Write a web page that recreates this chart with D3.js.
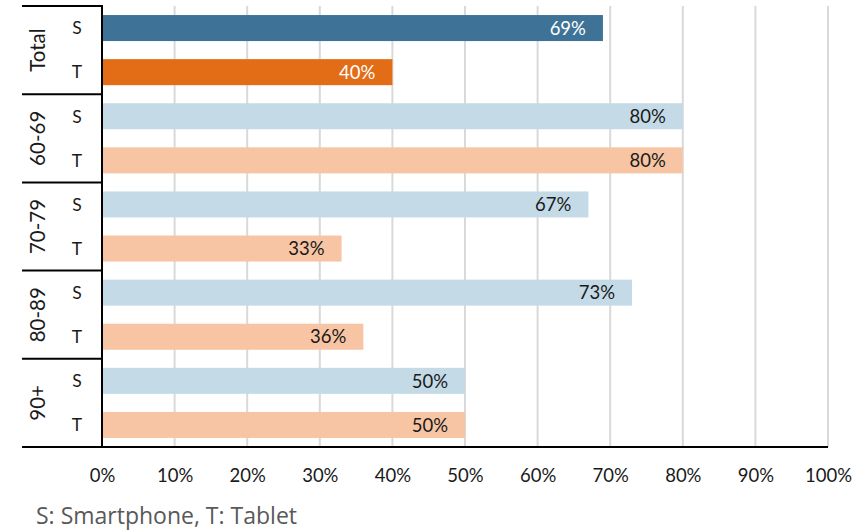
<!DOCTYPE html>
<html>
<head>
<meta charset="utf-8">
<script src="https://cdn.jsdelivr.net/npm/d3@7"></script>
<style>
  html, body { margin: 0; padding: 0; background: #fff; }
  svg { display: block; font-family: Lato, "Open Sans", sans-serif; }
</style>
</head>
<body>
<svg id="chart" width="861" height="532"></svg>
<script>
// Share of respondents using each device, by age group
const groups = ["Total", "60-69", "70-79", "80-89", "90+"];
const devices = ["S", "T"];
const smartphone = [69, 80, 67, 73, 50];
const tablet = [40, 80, 33, 36, 50];
const xTicks = [0, 10, 20, 30, 40, 50, 60, 70, 80, 90, 100];
const footnote = "S: Smartphone, T: Tablet";

const rows = [];
groups.forEach((g, i) => {
  rows.push({ group: g, device: "S", value: smartphone[i], gi: i });
  rows.push({ group: g, device: "T", value: tablet[i], gi: i });
});
rows.forEach((r, i) => r.key = i);

const svg = d3.select("#chart");
const plotLeft = 102, plotRight = 828, plotTop = 6, plotBottom = 447;
const outerLeft = 22;
const textColor = "#1a1a1a";

const x = d3.scaleLinear().domain([0, 100]).range([plotLeft, plotRight]);
const y = d3.scaleBand().domain(rows.map(r => r.key)).range([plotTop, plotBottom]).paddingInner(0.41).paddingOuter(0.205);
const yGroup = d3.scaleBand().domain(groups).range([plotTop, plotBottom]);

const fill = r => {
  if (r.gi === 0) return r.device === "S" ? "#3e7397" : "#e36c17";
  return r.device === "S" ? "#c4dbe7" : "#f7c5a3";
};

// vertical gridlines
svg.append("g").selectAll("line").data(xTicks.slice(1)).join("line")
  .attr("x1", d => x(d)).attr("x2", d => x(d))
  .attr("y1", plotTop).attr("y2", plotBottom)
  .attr("stroke", "#d9d9d9").attr("stroke-width", 2);

// bars
svg.append("g").selectAll("rect").data(rows).join("rect")
  .attr("x", x(0)).attr("y", r => y(r.key))
  .attr("width", r => x(r.value) - x(0)).attr("height", y.bandwidth())
  .attr("fill", fill);

// value labels inside bar ends
svg.append("g").selectAll("text").data(rows).join("text")
  .attr("x", r => x(r.value) - 17)
  .attr("y", r => y(r.key) + y.bandwidth() / 2)
  .attr("dy", "0.36em")
  .attr("text-anchor", "end")
  .attr("font-size", 18.5)
  .attr("fill", r => r.gi === 0 ? "#ffffff" : textColor)
  .text(r => r.value + "%");

// x axis
const xAxis = d3.axisBottom(x).tickValues(xTicks).tickFormat(d => d + "%").tickSize(0).tickPadding(22);
const gx = svg.append("g").attr("transform", `translate(0,${plotBottom})`).call(xAxis);
gx.select(".domain").remove();
gx.selectAll("text").attr("font-size", 18.5).attr("fill", textColor).style("font-family", "Lato, 'Open Sans', sans-serif");
svg.append("line").attr("x1", outerLeft).attr("x2", plotRight).attr("y1", plotBottom).attr("y2", plotBottom)
  .attr("stroke", "#000").attr("stroke-width", 2);

// category frame on the left
const sepY = groups.map(g => yGroup(g));
svg.append("g").selectAll("line").data(sepY).join("line")
  .attr("x1", outerLeft).attr("x2", plotLeft)
  .attr("y1", d => d).attr("y2", d => d)
  .attr("stroke", "#000").attr("stroke-width", 2);
svg.append("line").attr("x1", plotLeft).attr("x2", plotLeft).attr("y1", plotTop - 1).attr("y2", plotBottom + 1)
  .attr("stroke", "#000").attr("stroke-width", 2);

// device labels
svg.append("g").selectAll("text").data(rows).join("text")
  .attr("x", 77).attr("y", r => y(r.key) + y.bandwidth() / 2)
  .attr("dy", "0.36em").attr("text-anchor", "middle")
  .attr("font-size", 17.5).attr("fill", textColor)
  .text(r => r.device);

// group labels, rotated
svg.append("g").selectAll("text").data(groups).join("text")
  .attr("transform", g => `translate(37.5,${yGroup(g) + yGroup.bandwidth() / 2}) rotate(-90)`)
  .attr("dy", "0.36em").attr("text-anchor", "middle")
  .attr("font-size", 20.5).attr("fill", textColor)
  .text(g => g);

// footnote
svg.append("text").attr("x", 36).attr("y", 524)
  .attr("font-size", 23).attr("fill", "#595959")
  .style("font-family", "'Open Sans', sans-serif")
  .text(footnote);
</script>
</body>
</html>
